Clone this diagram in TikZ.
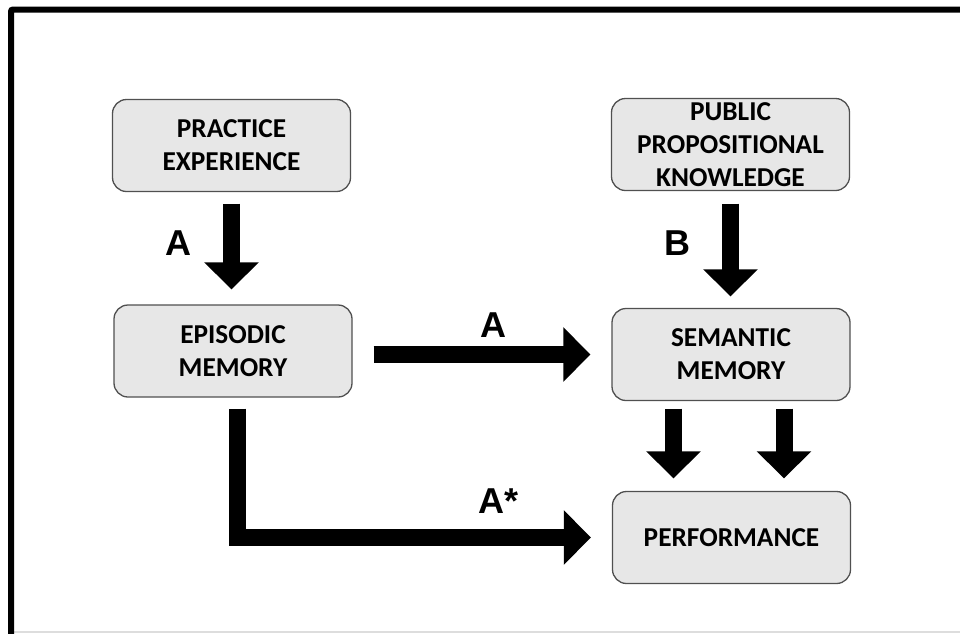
\documentclass[tikz,border=0pt]{standalone}
\usepackage{fontspec}
\setmainfont{Carlito}
\newfontfamily\labfont{Liberation Sans}
\usetikzlibrary{arrows.meta}
\definecolor{boxfill}{HTML}{E7E7E7}
\definecolor{boxborder}{HTML}{505050}
\definecolor{bottomline}{HTML}{DDDDDD}
\begin{document}
\begin{tikzpicture}[x=1pt,y=-1pt,
  box/.style={draw=boxborder, line width=1.3pt, fill=boxfill, rounded corners=14pt,
    minimum width=238pt, minimum height=92pt, align=center, inner sep=0pt,
    font=\fontsize{27.3}{33}\selectfont\bfseries},
  bigarrow/.style={line width=17pt, -{Triangle[width=53pt,length=27pt]}},
  lab/.style={font=\labfont\bfseries\fontsize{36}{40}\selectfont, inner sep=0pt, anchor=base}
]
\useasboundingbox (0,0) rectangle (960,633);
% frame
\draw[bottomline, line width=1.5pt] (11,632) -- (960,632);
\draw[line width=6pt, rounded corners=2pt] (11,640) -- (11,9.5) -- (970,9.5);

% boxes
\node[box] (prac) at (231.5,145.5) {PRACTICE\\EXPERIENCE};
\node[box] (pub)  at (730.5,144.5) {PUBLIC\\PROPOSITIONAL\\KNOWLEDGE};
\node[box] (epi)  at (233,351) {EPISODIC\\MEMORY};
\node[box] (sem)  at (731,354.5) {SEMANTIC\\MEMORY};
\node[box] (perf) at (731.5,537.5) {PERFORMANCE};

% arrows
\draw[bigarrow, shorten <=11.5pt, shorten >=15pt] (prac.south) -- (prac.south |- epi.north);
\draw[bigarrow, shorten <=12.5pt, shorten >=11.5pt] (pub.south) -- (pub.south |- sem.north);
\draw[bigarrow, shorten <=21pt, shorten >=21pt] (epi.east |- sem.west) -- (sem.west);
\draw[bigarrow, shorten <=11pt, shorten >=21pt] ([xshift=4pt]epi.south) |- (perf.west);
\draw[bigarrow, shorten <=7.5pt, shorten >=12.5pt] ([xshift=-57.5pt]sem.south) -- ([xshift=-57.5pt]sem.south |- perf.north);
\draw[bigarrow, shorten <=7.5pt, shorten >=12.5pt] ([xshift=53pt]sem.south) -- ([xshift=53pt]sem.south |- perf.north);

% labels
\node[lab] (la1) at (178,255.5) {A};
\node[lab] (lb)  at (677,255.5) {B};
\node[lab] (la2) at (493,337) {A};
\node[lab, anchor=base west] (la3) at (478,513) {A*};
\end{tikzpicture}
\end{document}
